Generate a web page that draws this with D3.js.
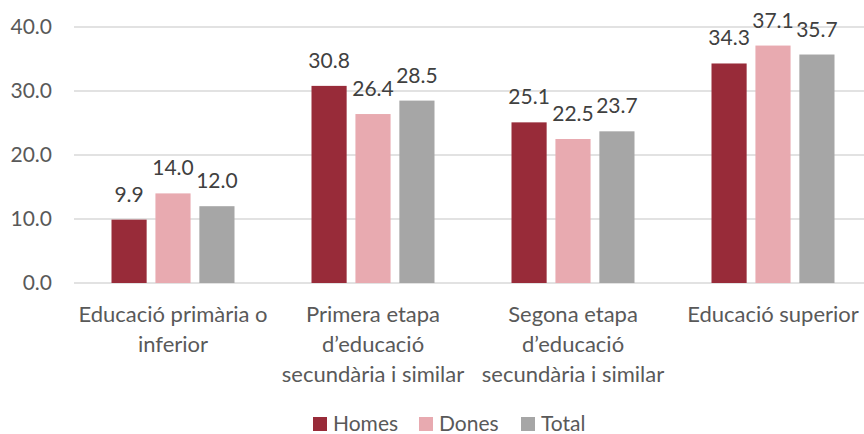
<!DOCTYPE html>
<html>
<head>
<meta charset="utf-8">
<script src="https://cdn.jsdelivr.net/npm/d3@7"></script>
<style>
  body { margin: 0; background: #fff; }
  svg { display: block; font-family: Lato, "Open Sans", sans-serif; }
</style>
</head>
<body>
<svg></svg>
<script>
// dades del gràfic
const categories = [
  ["Educació primària o", "inferior"],
  ["Primera etapa", "d’educació", "secundària i similar"],
  ["Segona etapa", "d’educació", "secundària i similar"],
  ["Educació superior"]
];
const seriesNames = ["Homes", "Dones", "Total"];
const homes = [9.9, 30.8, 25.1, 34.3];
const dones = [14.0, 26.4, 22.5, 37.1];
const total = [12.0, 28.5, 23.7, 35.7];
const yTicks = [0, 10, 20, 30, 40];

const colors = ["#982B39", "#E8AAB0", "#A6A6A6"];

const width = 864;
const height = 434;
const plot = { left: 74, right: 873, top: 27, bottom: 283 };

const svg = d3.select("svg")
  .attr("width", width)
  .attr("height", height);

const catIdx = categories.map((c, i) => i);
const rows = catIdx.map(i => [homes[i], dones[i], total[i]]);

const x0 = d3.scaleBand()
  .domain(catIdx)
  .range([plot.left - 1, plot.right])
  .paddingInner(0.385)
  .paddingOuter(0.1925);

const x1 = d3.scaleBand()
  .domain(seriesNames)
  .range([0, x0.bandwidth()])
  .paddingInner(0.2);

const y = d3.scaleLinear()
  .domain([0, 40])
  .range([plot.bottom, plot.top]);

const color = d3.scaleOrdinal().domain(seriesNames).range(colors);

// línies de la graella
svg.append("g")
  .selectAll("line")
  .data(yTicks)
  .enter()
  .append("line")
  .attr("x1", plot.left)
  .attr("x2", width)
  .attr("y1", d => y(d))
  .attr("y2", d => y(d))
  .attr("stroke", "#D9D9D9")
  .attr("stroke-width", 1.5);

// etiquetes de l'eix Y
const yAxis = svg.append("g")
  .attr("transform", "translate(52,0)")
  .call(d3.axisLeft(y).tickValues(yTicks).tickSize(0).tickPadding(0).tickFormat(d3.format(".1f")));
yAxis.select(".domain").remove();
yAxis.selectAll("text")
  .attr("fill", "#595959")
  .style("font-size", "21px")
  .style("font-family", "Lato, sans-serif");

// barres
const groups = svg.append("g")
  .selectAll("g")
  .data(rows)
  .enter()
  .append("g")
  .attr("transform", (d, i) => "translate(" + x0(i) + ",0)");

const cells = groups.selectAll("g")
  .data(d => d.map((v, j) => ({ key: seriesNames[j], value: v })))
  .enter()
  .append("g");

cells.append("rect")
  .attr("x", d => x1(d.key))
  .attr("y", d => y(d.value))
  .attr("width", x1.bandwidth())
  .attr("height", d => y(0) - y(d.value))
  .attr("fill", d => color(d.key));

// etiquetes de valor
cells.append("text")
  .attr("x", d => x1(d.key) + x1.bandwidth() / 2)
  .attr("y", d => y(d.value) - 18)
  .attr("text-anchor", "middle")
  .attr("fill", "#404040")
  .style("font-size", "21px")
  .text(d => d.value.toFixed(1));

// etiquetes de categoria
const catLabels = svg.append("g")
  .selectAll("text")
  .data(categories)
  .enter()
  .append("text")
  .attr("x", (d, i) => x0(i) + x0.bandwidth() / 2)
  .attr("y", 322)
  .attr("text-anchor", "middle")
  .attr("fill", "#595959")
  .style("font-size", "22px");

catLabels.selectAll("tspan")
  .data(d => d)
  .enter()
  .append("tspan")
  .attr("x", function () { return d3.select(this.parentNode).attr("x"); })
  .attr("dy", (d, i) => (i === 0 ? 0 : 30))
  .text(d => d);

// llegenda
const legendX = [313, 419, 521];
const legend = svg.append("g")
  .selectAll("g")
  .data(seriesNames)
  .enter()
  .append("g")
  .attr("transform", (d, i) => "translate(" + legendX[i] + ",417)");

legend.append("rect")
  .attr("width", 14)
  .attr("height", 14)
  .attr("fill", d => color(d));

legend.append("text")
  .attr("x", 20)
  .attr("y", 14)
  .attr("fill", "#595959")
  .style("font-size", "21px")
  .text(d => d);
</script>
</body>
</html>
